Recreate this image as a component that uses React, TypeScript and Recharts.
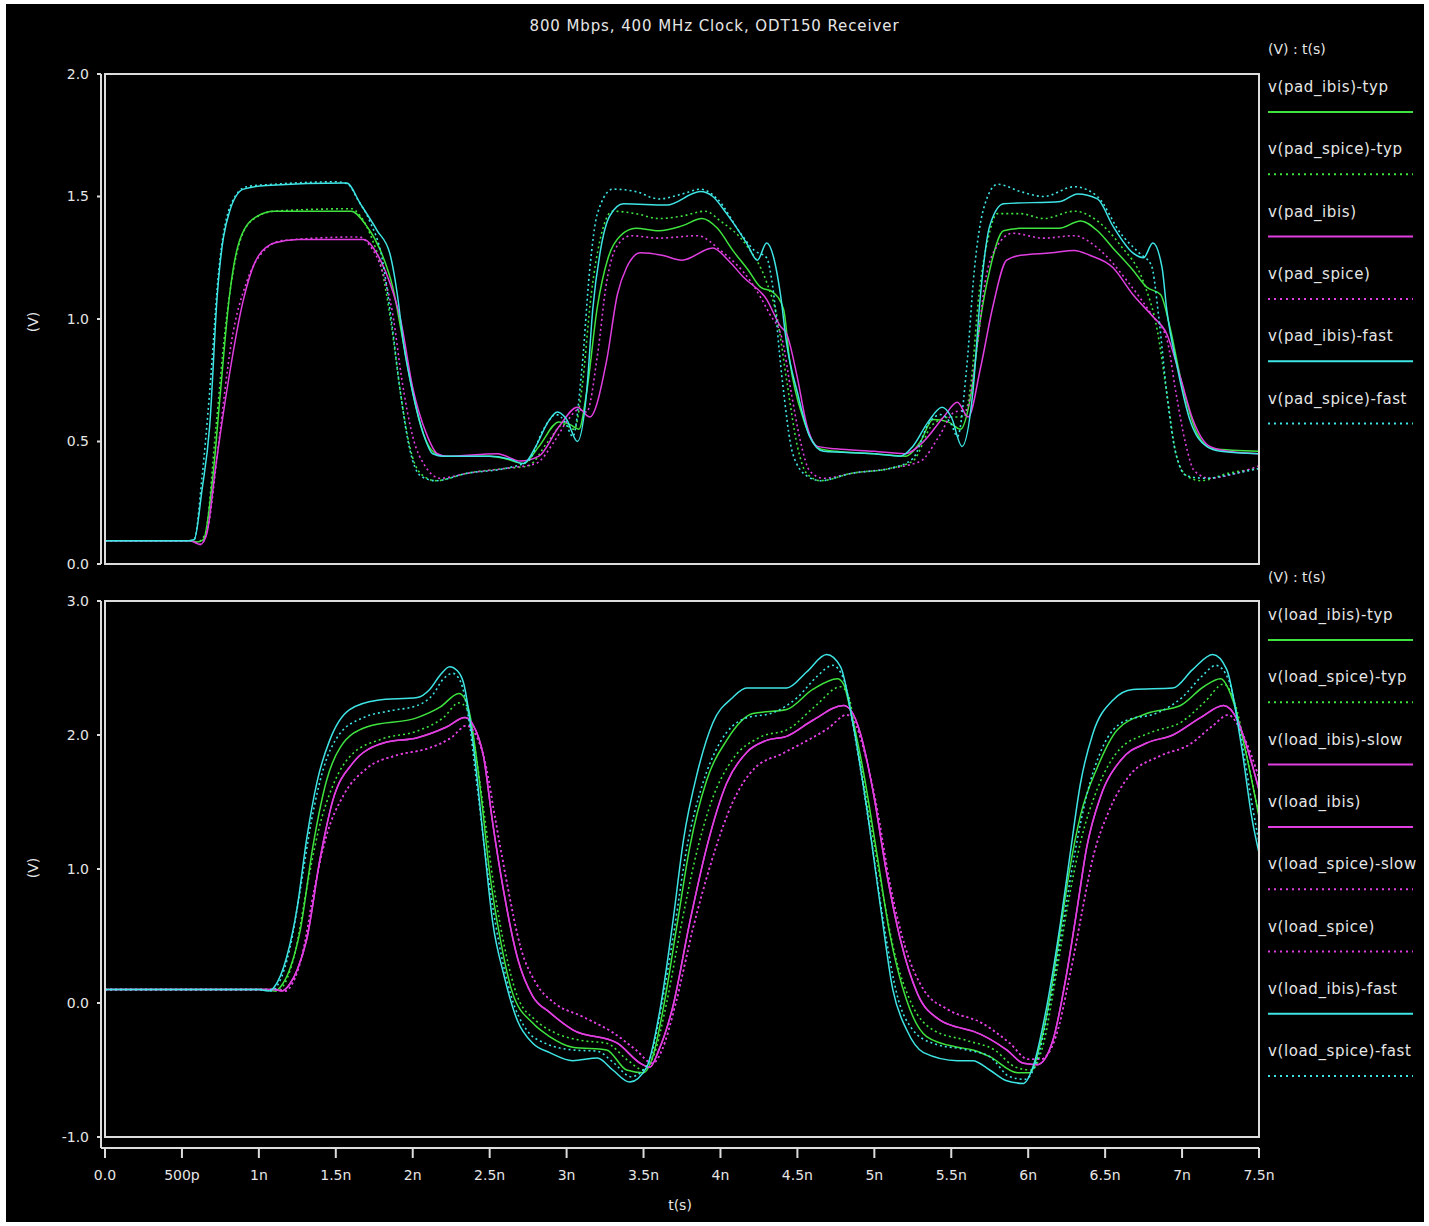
import React from 'react';
import { LineChart, Line, XAxis, YAxis, Legend } from 'recharts';

type Pt = [number, number];

// time axis in ns
const timeTicks = [0, 0.5, 1, 1.5, 2, 2.5, 3, 3.5, 4, 4.5, 5, 5.5, 6, 6.5, 7, 7.5];
const padTicks = [0, 0.5, 1, 1.5, 2];
const loadTicks = [-1, 0, 1, 2, 3];

// ---- pad waveforms (V vs ns) ----
const padIbisTyp: Pt[] = [
  [0, 0.095], [0.55, 0.095], [0.6, 0.09], [0.64, 0.1], [0.7, 0.35], [0.75, 0.7], [0.81, 1.1], [0.88, 1.33],
  [0.99, 1.42], [1.1, 1.44], [1.6, 1.44], [1.7, 1.38], [1.79, 1.28], [1.87, 1.13], [1.94, 0.9], [2.0, 0.7],
  [2.07, 0.53], [2.13, 0.46], [2.2, 0.44], [2.5, 0.44], [2.6, 0.43], [2.72, 0.41], [2.82, 0.48], [2.95, 0.58],
  [3.02, 0.57], [3.08, 0.55], [3.13, 0.7], [3.2, 1.05], [3.27, 1.25], [3.35, 1.34], [3.45, 1.37], [3.6, 1.36],
  [3.75, 1.38], [3.88, 1.41], [3.98, 1.37], [4.08, 1.28], [4.18, 1.2], [4.26, 1.13], [4.34, 1.11], [4.41, 1.04],
  [4.45, 0.83], [4.54, 0.59], [4.65, 0.47], [4.75, 0.46], [5.0, 0.45], [5.2, 0.44], [5.3, 0.5], [5.38, 0.59],
  [5.48, 0.58], [5.56, 0.55], [5.63, 0.7], [5.69, 1.0], [5.75, 1.2], [5.84, 1.36], [5.95, 1.37], [6.2, 1.37],
  [6.34, 1.4], [6.45, 1.36], [6.55, 1.29], [6.68, 1.2], [6.77, 1.13], [6.86, 1.1], [6.92, 0.97], [6.99, 0.76],
  [7.1, 0.53], [7.2, 0.47], [7.5, 0.46],
];
const padSpiceTyp: Pt[] = [
  [0, 0.095], [0.55, 0.095], [0.6, 0.09], [0.65, 0.12], [0.72, 0.55], [0.78, 0.95], [0.85, 1.25], [0.95, 1.4],
  [1.1, 1.44], [1.6, 1.45], [1.66, 1.42], [1.74, 1.32], [1.8, 1.2], [1.86, 0.98], [1.92, 0.7], [1.98, 0.48],
  [2.05, 0.37], [2.15, 0.34], [2.35, 0.37], [2.6, 0.39], [2.75, 0.4], [2.88, 0.5], [2.98, 0.57], [3.05, 0.55],
  [3.1, 0.72], [3.16, 1.1], [3.22, 1.33], [3.3, 1.44], [3.45, 1.43], [3.6, 1.41], [3.75, 1.42], [3.9, 1.44],
  [4.0, 1.4], [4.17, 1.3], [4.3, 1.15], [4.37, 1.0], [4.43, 0.75], [4.5, 0.48], [4.56, 0.37], [4.65, 0.34],
  [4.85, 0.37], [5.1, 0.39], [5.25, 0.42], [5.38, 0.57], [5.5, 0.6], [5.58, 0.6], [5.63, 0.75], [5.68, 1.1],
  [5.74, 1.33], [5.8, 1.43], [5.95, 1.43], [6.1, 1.41], [6.3, 1.44], [6.45, 1.4], [6.6, 1.3], [6.75, 1.15],
  [6.84, 0.95], [6.9, 0.7], [6.96, 0.45], [7.03, 0.36], [7.12, 0.34], [7.3, 0.37], [7.5, 0.39],
];
const padIbis: Pt[] = [
  [0, 0.095], [0.55, 0.095], [0.62, 0.08], [0.66, 0.12], [0.72, 0.4], [0.79, 0.7], [0.9, 1.08], [0.99, 1.25],
  [1.1, 1.31], [1.25, 1.325], [1.68, 1.325], [1.79, 1.24], [1.85, 1.15], [1.92, 1.0], [2.0, 0.72], [2.09, 0.53],
  [2.16, 0.45], [2.22, 0.44], [2.55, 0.45], [2.7, 0.42], [2.82, 0.44], [2.95, 0.56], [3.07, 0.64], [3.15, 0.6],
  [3.26, 0.83], [3.33, 1.1], [3.39, 1.21], [3.48, 1.27], [3.62, 1.26], [3.75, 1.24], [3.95, 1.29], [4.05, 1.24],
  [4.15, 1.17], [4.3, 1.08], [4.39, 0.97], [4.43, 0.94], [4.5, 0.76], [4.56, 0.57], [4.63, 0.48], [4.75, 0.47],
  [5.0, 0.46], [5.2, 0.45], [5.32, 0.5], [5.45, 0.6], [5.54, 0.66], [5.61, 0.6], [5.69, 0.8], [5.77, 1.05],
  [5.86, 1.24], [5.95, 1.26], [6.15, 1.27], [6.3, 1.28], [6.4, 1.26], [6.55, 1.21], [6.68, 1.1], [6.81, 1.01],
  [6.9, 0.94], [6.99, 0.76], [7.07, 0.59], [7.18, 0.48], [7.3, 0.46], [7.5, 0.45],
];
const padSpice: Pt[] = [
  [0, 0.095], [0.56, 0.095], [0.62, 0.08], [0.67, 0.15], [0.74, 0.5], [0.82, 0.9], [0.92, 1.15], [1.02, 1.27],
  [1.15, 1.32], [1.65, 1.335], [1.72, 1.3], [1.8, 1.2], [1.87, 1.02], [1.93, 0.75], [2.0, 0.52], [2.08, 0.4],
  [2.18, 0.35], [2.35, 0.37], [2.6, 0.39], [2.8, 0.41], [2.92, 0.5], [3.0, 0.58], [3.08, 0.63], [3.13, 0.62],
  [3.2, 0.85], [3.26, 1.15], [3.33, 1.3], [3.42, 1.34], [3.6, 1.33], [3.85, 1.34], [4.0, 1.28], [4.2, 1.15],
  [4.32, 1.02], [4.4, 0.92], [4.46, 0.7], [4.52, 0.5], [4.58, 0.38], [4.67, 0.35], [4.85, 0.37], [5.1, 0.39],
  [5.3, 0.42], [5.42, 0.52], [5.52, 0.62], [5.6, 0.63], [5.66, 0.85], [5.72, 1.15], [5.8, 1.3], [5.9, 1.35],
  [6.1, 1.33], [6.3, 1.34], [6.45, 1.29], [6.65, 1.15], [6.8, 1.02], [6.9, 0.92], [6.96, 0.7], [7.02, 0.5],
  [7.08, 0.38], [7.18, 0.35], [7.35, 0.37], [7.5, 0.4],
];
const padIbisFast: Pt[] = [
  [0, 0.095], [0.54, 0.095], [0.58, 0.1], [0.63, 0.3], [0.68, 0.56], [0.73, 1.1], [0.81, 1.44], [0.9, 1.53],
  [1.05, 1.545], [1.57, 1.555], [1.66, 1.47], [1.77, 1.36], [1.85, 1.27], [1.9, 1.1], [1.94, 0.9], [2.0, 0.7],
  [2.07, 0.53], [2.13, 0.45], [2.2, 0.44], [2.5, 0.44], [2.62, 0.43], [2.72, 0.41], [2.8, 0.48], [2.88, 0.58],
  [2.94, 0.62], [3.0, 0.59], [3.07, 0.5], [3.13, 0.7], [3.17, 1.04], [3.22, 1.28], [3.28, 1.42], [3.37, 1.47],
  [3.65, 1.465], [3.87, 1.52], [3.95, 1.5], [4.04, 1.43], [4.17, 1.31], [4.24, 1.24], [4.3, 1.31], [4.35, 1.24],
  [4.39, 1.1], [4.43, 0.9], [4.5, 0.7], [4.58, 0.52], [4.67, 0.46], [5.0, 0.45], [5.17, 0.44], [5.25, 0.48],
  [5.35, 0.58], [5.44, 0.64], [5.5, 0.6], [5.57, 0.48], [5.64, 0.7], [5.69, 1.1], [5.75, 1.38], [5.84, 1.47],
  [6.21, 1.48], [6.32, 1.51], [6.45, 1.49], [6.55, 1.38], [6.68, 1.27], [6.75, 1.25], [6.81, 1.31], [6.87, 1.21],
  [6.9, 1.04], [6.97, 0.8], [7.05, 0.59], [7.16, 0.48], [7.25, 0.46], [7.5, 0.45],
];
const padSpiceFast: Pt[] = [
  [0, 0.095], [0.54, 0.095], [0.58, 0.1], [0.63, 0.35], [0.68, 0.7], [0.74, 1.2], [0.82, 1.47], [0.92, 1.54],
  [1.1, 1.55], [1.5, 1.56], [1.58, 1.55], [1.64, 1.49], [1.72, 1.4], [1.8, 1.25], [1.86, 1.0], [1.92, 0.7],
  [1.98, 0.47], [2.05, 0.36], [2.15, 0.34], [2.35, 0.37], [2.6, 0.39], [2.75, 0.42], [2.85, 0.55], [2.93, 0.61],
  [2.99, 0.58], [3.04, 0.52], [3.1, 0.8], [3.15, 1.2], [3.2, 1.43], [3.3, 1.53], [3.45, 1.52], [3.6, 1.49],
  [3.75, 1.51], [3.87, 1.53], [3.98, 1.49], [4.13, 1.35], [4.22, 1.28], [4.3, 1.25], [4.34, 1.13], [4.4, 0.76],
  [4.47, 0.45], [4.56, 0.36], [4.65, 0.34], [4.85, 0.37], [5.1, 0.39], [5.25, 0.43], [5.35, 0.57], [5.43, 0.61],
  [5.5, 0.57], [5.54, 0.52], [5.6, 0.8], [5.65, 1.2], [5.71, 1.45], [5.8, 1.55], [5.95, 1.52], [6.1, 1.5],
  [6.3, 1.54], [6.45, 1.5], [6.6, 1.35], [6.72, 1.27], [6.8, 1.22], [6.85, 1.0], [6.9, 0.7], [6.96, 0.45],
  [7.03, 0.36], [7.15, 0.35], [7.35, 0.37], [7.5, 0.39],
];

// ---- load waveforms (V vs ns) ----
const loadIbisTyp: Pt[] = [
  [0, 0.1], [1.05, 0.1], [1.1, 0.09], [1.14, 0.12], [1.2, 0.25], [1.27, 0.55], [1.35, 1.16], [1.44, 1.66],
  [1.53, 1.91], [1.7, 2.06], [2.03, 2.13], [2.18, 2.21], [2.3, 2.31], [2.34, 2.27], [2.37, 2.16], [2.44, 1.59],
  [2.5, 0.97], [2.57, 0.47], [2.65, 0.07], [2.78, -0.15], [2.89, -0.25], [3.04, -0.33], [3.26, -0.35], [3.39, -0.5],
  [3.5, -0.52], [3.56, -0.4], [3.63, -0.03], [3.72, 0.6], [3.8, 1.16], [3.91, 1.66], [4.04, 1.96], [4.21, 2.16],
  [4.43, 2.19], [4.6, 2.34], [4.76, 2.42], [4.8, 2.38], [4.84, 2.21], [4.93, 1.72], [5.02, 1.09], [5.1, 0.52],
  [5.21, 0.02], [5.34, -0.25], [5.54, -0.33], [5.64, -0.35], [5.75, -0.4], [5.93, -0.52], [6.01, -0.52], [6.08, -0.3],
  [6.15, 0.1], [6.21, 0.55], [6.27, 1.0], [6.34, 1.4], [6.45, 1.76], [6.58, 2.04], [6.77, 2.16], [6.99, 2.22],
  [7.14, 2.36], [7.25, 2.42], [7.33, 2.26], [7.42, 1.84], [7.5, 1.39],
];
const loadSpiceTyp: Pt[] = [
  [0, 0.1], [1.07, 0.1], [1.12, 0.09], [1.17, 0.15], [1.24, 0.4], [1.31, 0.85], [1.39, 1.3], [1.48, 1.62],
  [1.6, 1.85], [1.8, 1.97], [2.03, 2.03], [2.2, 2.13], [2.3, 2.24], [2.35, 2.2], [2.39, 2.0], [2.46, 1.45],
  [2.53, 0.85], [2.6, 0.4], [2.68, 0.05], [2.8, -0.13], [2.92, -0.22], [3.1, -0.28], [3.26, -0.3], [3.4, -0.43],
  [3.5, -0.5], [3.57, -0.38], [3.65, 0.0], [3.74, 0.55], [3.83, 1.05], [3.94, 1.5], [4.08, 1.82], [4.25, 1.98],
  [4.45, 2.05], [4.62, 2.22], [4.78, 2.36], [4.83, 2.3], [4.88, 2.0], [4.96, 1.45], [5.05, 0.85], [5.13, 0.38],
  [5.24, 0.0], [5.38, -0.2], [5.6, -0.28], [5.78, -0.35], [5.92, -0.48], [6.02, -0.5], [6.1, -0.3], [6.18, 0.2],
  [6.26, 0.75], [6.34, 1.2], [6.45, 1.6], [6.6, 1.9], [6.8, 2.02], [7.0, 2.1], [7.15, 2.25], [7.27, 2.38],
  [7.34, 2.25], [7.42, 1.85], [7.5, 1.4],
];
const loadIbis: Pt[] = [
  [0, 0.1], [1.1, 0.1], [1.15, 0.09], [1.2, 0.14], [1.25, 0.25], [1.31, 0.47], [1.4, 1.09], [1.48, 1.51],
  [1.61, 1.79], [1.81, 1.94], [2.03, 1.98], [2.22, 2.06], [2.34, 2.13], [2.39, 2.08], [2.46, 1.84], [2.52, 1.34],
  [2.59, 0.84], [2.68, 0.34], [2.78, 0.05], [2.89, -0.07], [3.04, -0.2], [3.33, -0.3], [3.48, -0.45], [3.54, -0.48],
  [3.6, -0.35], [3.69, -0.03], [3.8, 0.6], [3.91, 1.16], [4.04, 1.64], [4.17, 1.87], [4.3, 1.96], [4.43, 1.99],
  [4.6, 2.11], [4.8, 2.22], [4.85, 2.18], [4.91, 2.01], [4.99, 1.59], [5.08, 0.97], [5.17, 0.47], [5.28, 0.07],
  [5.43, -0.13], [5.54, -0.18], [5.64, -0.21], [5.86, -0.35], [5.97, -0.45], [6.06, -0.46], [6.16, -0.28], [6.25, 0.22],
  [6.32, 0.72], [6.38, 1.16], [6.47, 1.54], [6.6, 1.81], [6.77, 1.94], [6.94, 2.0], [7.12, 2.13], [7.27, 2.22],
  [7.36, 2.11], [7.44, 1.84], [7.5, 1.59],
];
const loadSpice: Pt[] = [
  [0, 0.1], [1.12, 0.1], [1.17, 0.09], [1.22, 0.15], [1.29, 0.4], [1.36, 0.85], [1.44, 1.25], [1.55, 1.55],
  [1.7, 1.75], [1.9, 1.85], [2.1, 1.9], [2.25, 1.98], [2.35, 2.07], [2.4, 2.02], [2.47, 1.8], [2.54, 1.35],
  [2.62, 0.85], [2.7, 0.42], [2.8, 0.15], [2.92, 0.0], [3.1, -0.1], [3.3, -0.22], [3.45, -0.35], [3.56, -0.45],
  [3.62, -0.35], [3.71, 0.0], [3.82, 0.55], [3.94, 1.05], [4.08, 1.5], [4.22, 1.75], [4.4, 1.86], [4.55, 1.95],
  [4.7, 2.05], [4.82, 2.15], [4.87, 2.1], [4.93, 1.9], [5.01, 1.5], [5.1, 0.9], [5.2, 0.42], [5.32, 0.1],
  [5.48, -0.05], [5.7, -0.15], [5.88, -0.3], [6.0, -0.42], [6.08, -0.42], [6.18, -0.25], [6.27, 0.2], [6.35, 0.68],
  [6.42, 1.08], [6.52, 1.42], [6.66, 1.7], [6.85, 1.84], [7.05, 1.93], [7.2, 2.07], [7.3, 2.15], [7.37, 2.06],
  [7.45, 1.85], [7.5, 1.68],
];
// slow corner traces lie on top of the nominal ones
const loadIbisSlow: Pt[] = loadIbis;
const loadSpiceSlow: Pt[] = loadSpice;
const loadIbisFast: Pt[] = [
  [0, 0.1], [1.0, 0.1], [1.06, 0.09], [1.1, 0.12], [1.18, 0.34], [1.25, 0.72], [1.31, 1.22], [1.38, 1.66],
  [1.46, 1.96], [1.59, 2.19], [1.77, 2.26], [2.03, 2.28], [2.11, 2.34], [2.18, 2.45], [2.24, 2.51], [2.29, 2.48],
  [2.33, 2.39], [2.39, 1.96], [2.46, 1.22], [2.52, 0.6], [2.59, 0.22], [2.68, -0.13], [2.78, -0.3], [2.89, -0.37],
  [3.04, -0.43], [3.2, -0.41], [3.3, -0.5], [3.41, -0.59], [3.52, -0.48], [3.61, -0.03], [3.69, 0.6], [3.76, 1.22],
  [3.85, 1.72], [3.95, 2.09], [4.08, 2.28], [4.17, 2.35], [4.43, 2.35], [4.56, 2.47], [4.69, 2.6], [4.78, 2.51],
  [4.86, 2.09], [4.95, 1.46], [5.04, 0.72], [5.12, 0.1], [5.21, -0.2], [5.32, -0.37], [5.54, -0.43], [5.64, -0.43],
  [5.75, -0.5], [5.86, -0.58], [5.97, -0.6], [6.03, -0.48], [6.12, -0.03], [6.21, 0.6], [6.27, 1.09], [6.34, 1.64],
  [6.42, 2.01], [6.55, 2.26], [6.68, 2.34], [6.94, 2.35], [7.07, 2.49], [7.2, 2.6], [7.29, 2.49], [7.38, 1.96],
  [7.46, 1.34], [7.5, 1.12],
];
const loadSpiceFast: Pt[] = [
  [0, 0.1], [1.02, 0.1], [1.08, 0.09], [1.13, 0.15], [1.2, 0.4], [1.27, 0.85], [1.34, 1.35], [1.42, 1.75],
  [1.52, 2.0], [1.68, 2.13], [1.85, 2.18], [2.03, 2.22], [2.13, 2.3], [2.2, 2.42], [2.26, 2.46], [2.31, 2.4],
  [2.36, 2.15], [2.42, 1.6], [2.49, 0.95], [2.56, 0.45], [2.64, 0.05], [2.74, -0.2], [2.86, -0.3], [3.04, -0.35],
  [3.2, -0.36], [3.3, -0.44], [3.42, -0.55], [3.53, -0.45], [3.62, 0.0], [3.7, 0.55], [3.78, 1.15], [3.88, 1.62],
  [4.0, 1.95], [4.15, 2.12], [4.35, 2.17], [4.5, 2.28], [4.63, 2.44], [4.73, 2.52], [4.8, 2.42], [4.88, 1.95],
  [4.97, 1.3], [5.06, 0.6], [5.15, 0.05], [5.25, -0.2], [5.38, -0.3], [5.6, -0.35], [5.75, -0.4], [5.88, -0.55],
  [5.98, -0.57], [6.05, -0.45], [6.14, 0.0], [6.22, 0.55], [6.3, 1.1], [6.38, 1.55], [6.48, 1.9], [6.62, 2.1],
  [6.85, 2.17], [7.0, 2.28], [7.13, 2.44], [7.22, 2.52], [7.3, 2.42], [7.38, 2.0], [7.46, 1.45], [7.5, 1.2],
];

const GREEN = '#3fe23f';
const MAGENTA = '#e03fe0';
const CYAN = '#3fe4e4';
const INK = '#e6e6e6';
const FONT = '"DejaVu Sans", Verdana, sans-serif';

interface Series { name: string; pts: Pt[]; color: string; dotted: boolean }

const padSeries: Series[] = [
  { name: 'v(pad_ibis)-typ', pts: padIbisTyp, color: GREEN, dotted: false },
  { name: 'v(pad_spice)-typ', pts: padSpiceTyp, color: GREEN, dotted: true },
  { name: 'v(pad_ibis)', pts: padIbis, color: MAGENTA, dotted: false },
  { name: 'v(pad_spice)', pts: padSpice, color: MAGENTA, dotted: true },
  { name: 'v(pad_ibis)-fast', pts: padIbisFast, color: CYAN, dotted: false },
  { name: 'v(pad_spice)-fast', pts: padSpiceFast, color: CYAN, dotted: true },
];

const loadSeries: Series[] = [
  { name: 'v(load_ibis)-typ', pts: loadIbisTyp, color: GREEN, dotted: false },
  { name: 'v(load_spice)-typ', pts: loadSpiceTyp, color: GREEN, dotted: true },
  { name: 'v(load_ibis)-slow', pts: loadIbisSlow, color: MAGENTA, dotted: false },
  { name: 'v(load_ibis)', pts: loadIbis, color: MAGENTA, dotted: false },
  { name: 'v(load_spice)-slow', pts: loadSpiceSlow, color: MAGENTA, dotted: true },
  { name: 'v(load_spice)', pts: loadSpice, color: MAGENTA, dotted: true },
  { name: 'v(load_ibis)-fast', pts: loadIbisFast, color: CYAN, dotted: false },
  { name: 'v(load_spice)-fast', pts: loadSpiceFast, color: CYAN, dotted: true },
];

const toPts = (arr: Pt[]) => arr.map(([t, v]) => ({ t, v }));

const fmtTime = (v: number) => (v === 0 ? '0.0' : v === 0.5 ? '500p' : `${v}n`);
const fmtVolt = (v: number) => v.toFixed(1);

const ROW = 62.3;

const PanelLegend = ({ series }: { series: Series[] }) => (
  <svg width={165} height={120 + ROW * series.length} style={{ display: 'block' }}>
    <text x={6} y={11} fill={INK} fontSize={14} fontFamily={FONT} dominantBaseline="central">(V) : t(s)</text>
    {series.map((s, i) => (
      <g key={s.name}>
        <text x={6} y={49 + i * ROW} fill={INK} fontSize={15} letterSpacing={0.6} fontFamily={FONT} dominantBaseline="central">
          {s.name}
        </text>
        <line
          x1={6} x2={151} y1={74 + i * ROW} y2={74 + i * ROW}
          stroke={s.color} strokeWidth={2}
          strokeDasharray={s.dotted ? '2 4' : undefined}
        />
      </g>
    ))}
  </svg>
);

const tickStyle = { fill: INK, fontSize: 14, fontFamily: FONT };
const axisStroke = { stroke: '#dcdcdc', strokeWidth: 2 };

const renderLines = (series: Series[]) =>
  series.map((s) => (
    <Line
      key={s.name}
      name={s.name}
      data={toPts(s.pts)}
      dataKey="v"
      type="monotone"
      stroke={s.color}
      strokeWidth={s.dotted ? 1.6 : 1.5}
      strokeDasharray={s.dotted ? '2 3' : undefined}
      dot={false}
      activeDot={false}
      isAnimationActive={false}
    />
  ));

const frame = (top: number, height: number): React.CSSProperties => ({
  position: 'absolute', left: 104, top, width: 1156, height,
  border: '2px solid #dcdcdc', boxSizing: 'border-box', pointerEvents: 'none',
});

const vLabel = (cy: number): React.CSSProperties => ({
  position: 'absolute', left: 33, top: cy, transform: 'translate(-50%, -50%) rotate(-90deg)',
  color: INK, fontSize: 14, fontFamily: FONT, whiteSpace: 'nowrap',
});

export default function App() {
  return (
    <div style={{ position: 'absolute', left: 0, top: 0, width: 1429, height: 1226, background: '#fff', overflow: 'hidden' }}>
      <div style={{ position: 'absolute', left: 6, top: 4, width: 1418, height: 1218, background: '#000' }} />

      <div style={{ position: 'absolute', left: 0, width: 1429, top: 17, textAlign: 'center', color: INK, fontSize: 15, letterSpacing: 0.9, fontFamily: FONT }}>
        800 Mbps, 400 MHz Clock, ODT150 Receiver
      </div>
      <div style={vLabel(322)}>(V)</div>
      <div style={vLabel(868)}>(V)</div>

      <div style={{ position: 'absolute', left: 0, top: 0 }}>
        <LineChart width={1429} height={600} margin={{ top: 74, right: 170, bottom: 36, left: 29 }}>
          <XAxis dataKey="t" type="number" domain={[0, 7.5]} ticks={timeTicks} allowDataOverflow hide padding={{ left: 4, right: 0 }} />
          <YAxis
            type="number" domain={[0, 2]} ticks={padTicks} width={72}
            tickFormatter={fmtVolt} tick={tickStyle} tickSize={4} tickMargin={8}
            axisLine={axisStroke} tickLine={axisStroke}
          />
          <Legend
            layout="vertical" align="center" verticalAlign="middle"
            wrapperStyle={{ left: 1262, top: 38, width: 165 }}
            content={() => <PanelLegend series={padSeries} />}
          />
          {renderLines(padSeries)}
        </LineChart>
      </div>

      <div style={{ position: 'absolute', left: 0, top: 560 }}>
        <LineChart width={1429} height={666} margin={{ top: 41, right: 170, bottom: 16, left: 29 }}>
          <XAxis
            dataKey="t" type="number" domain={[0, 7.5]} ticks={timeTicks} allowDataOverflow height={62}
            padding={{ left: 4, right: 0 }} tickFormatter={fmtTime} tick={tickStyle}
            tickSize={10} tickMargin={12} axisLine={axisStroke} tickLine={axisStroke}
            label={{ value: 't(s)', position: 'insideBottom', offset: 0, fill: INK, fontSize: 14, fontFamily: FONT }}
          />
          <YAxis
            type="number" domain={[-1.082, 3]} ticks={loadTicks} width={72} allowDataOverflow
            tickFormatter={fmtVolt} tick={tickStyle} tickSize={4} tickMargin={8}
            axisLine={axisStroke} tickLine={axisStroke}
          />
          <Legend
            layout="vertical" align="center" verticalAlign="middle"
            wrapperStyle={{ left: 1262, top: 6, width: 165 }}
            content={() => <PanelLegend series={loadSeries} />}
          />
          {renderLines(loadSeries)}
        </LineChart>
      </div>

      <div style={frame(73, 492)} />
      <div style={frame(600, 538)} />
    </div>
  );
}
